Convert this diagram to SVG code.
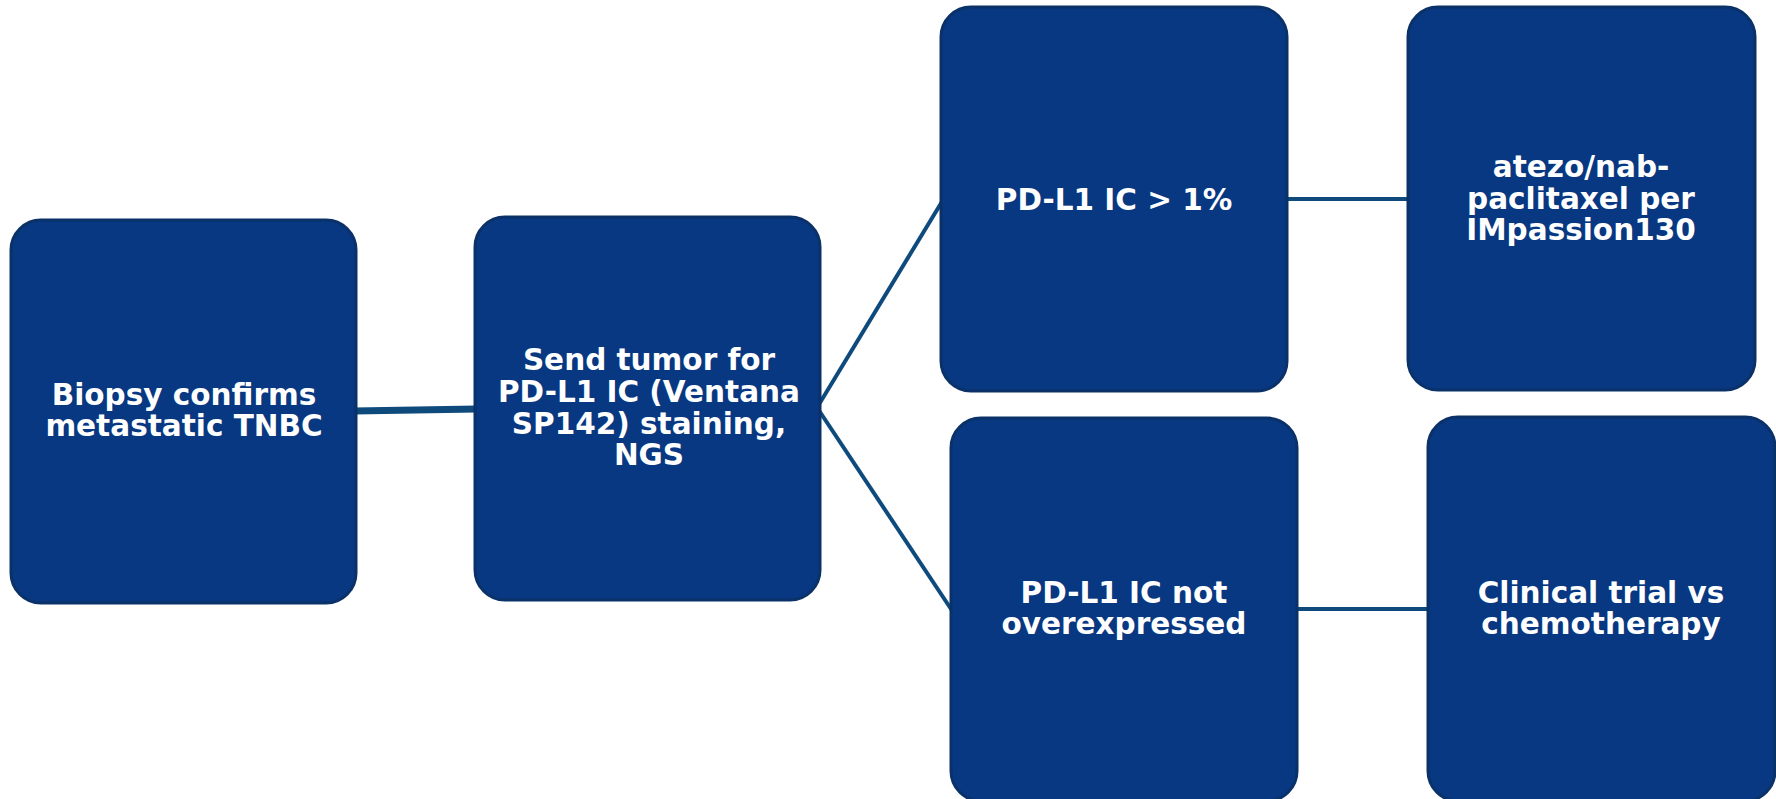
<svg xmlns="http://www.w3.org/2000/svg" width="1776" height="799" viewBox="0 0 1776 799">
<style>
.box{fill:#073881;stroke:#0b3169;stroke-width:3}
.lbl{font-family:"DejaVu Sans","Liberation Sans",sans-serif;font-weight:bold;font-size:29.5px;fill:#ffffff;text-anchor:middle}
.conn{stroke:#0f4a7c;fill:none}
</style>
<rect width="1776" height="799" fill="#ffffff"/>
<g id="connectors">
<line class="conn" x1="354" y1="411" x2="477" y2="409" stroke-width="7"/>
<line class="conn" x1="818" y1="406" x2="943" y2="200" stroke-width="4"/>
<line class="conn" x1="818" y1="409" x2="953" y2="612" stroke-width="4"/>
<line class="conn" x1="1285" y1="199" x2="1410" y2="199" stroke-width="4"/>
<line class="conn" x1="1295" y1="609" x2="1430" y2="609" stroke-width="4"/>
</g>
<g id="node-biopsy">
<rect class="box" x="11" y="220" width="345" height="383" rx="30"/>
<text class="lbl" x="184" y="405">Biopsy confirms</text>
<text class="lbl" x="184" y="436">metastatic TNBC</text>
</g>
<g id="node-send">
<rect class="box" x="475" y="217" width="345" height="383" rx="30"/>
<text class="lbl" x="649" y="370">Send tumor for</text>
<text class="lbl" x="649" y="402">PD-L1 IC (Ventana</text>
<text class="lbl" x="649" y="434">SP142) staining,</text>
<text class="lbl" x="649" y="465">NGS</text>
</g>
<g id="node-pdl1-pos">
<rect class="box" x="941" y="7" width="346" height="384" rx="30"/>
<text class="lbl" x="1114" y="210">PD-L1 IC &gt; 1%</text>
</g>
<g id="node-atezo">
<rect class="box" x="1408" y="7" width="347" height="383" rx="30"/>
<text class="lbl" x="1581" y="177">atezo/nab-</text>
<text class="lbl" x="1581" y="209">paclitaxel per</text>
<text class="lbl" x="1581" y="240">IMpassion130</text>
</g>
<g id="node-pdl1-neg">
<rect class="box" x="951" y="418" width="346" height="383" rx="30"/>
<text class="lbl" x="1124" y="603">PD-L1 IC not</text>
<text class="lbl" x="1124" y="634">overexpressed</text>
</g>
<g id="node-clinical">
<rect class="box" x="1428" y="417" width="347" height="384" rx="30"/>
<text class="lbl" x="1601" y="603">Clinical trial vs</text>
<text class="lbl" x="1601" y="634">chemotherapy</text>
</g>
</svg>
